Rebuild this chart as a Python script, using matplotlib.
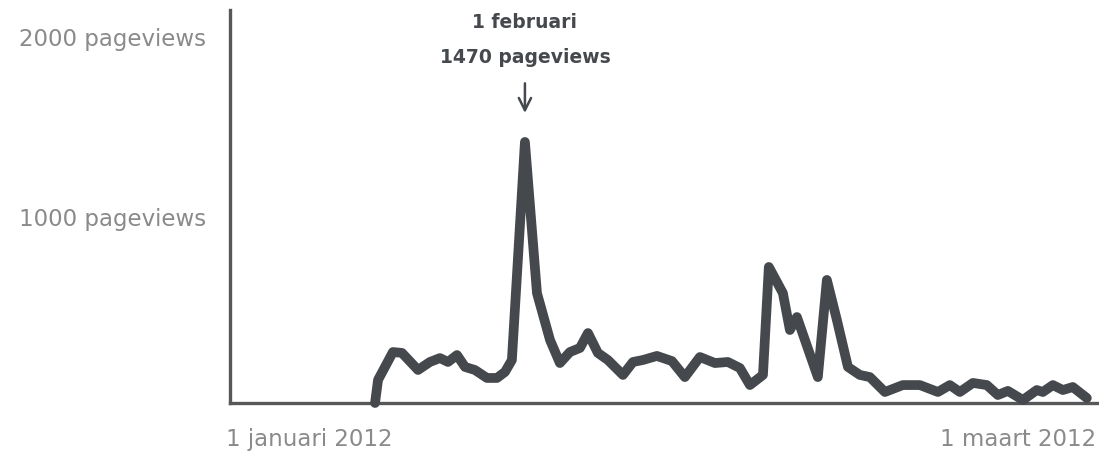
import matplotlib.pyplot as plt
import matplotlib.transforms as mtransforms

# daily pageviews, x in days since 1 januari 2012
days = [10.12, 10.33, 11.37, 12.0, 13.12, 13.95, 14.65, 15.21, 15.84, 16.40,
        17.09, 17.93, 18.63, 19.19, 19.67, 20.58, 21.42, 22.33, 23.02, 23.72,
        24.42, 24.98, 25.67, 26.37, 27.42, 28.12, 28.81, 29.79, 30.84, 31.74,
        32.79, 33.84, 34.74, 35.58, 36.28, 37.19, 37.60, 38.58, 39.07, 39.56,
        41.02, 41.65, 42.35, 43.12, 43.95, 44.65, 45.70, 46.95, 48.14, 49.40,
        50.23, 50.93, 51.84, 52.81, 53.58, 54.28, 55.33, 56.30, 56.72, 57.42,
        58.12, 58.81, 59.79]
pageviews = [0, 130, 287, 282, 186, 231, 253, 231, 270, 203,
             186, 141, 141, 175, 242, 1470, 619, 355, 225, 287,
             310, 394, 282, 242, 158, 231, 242, 265, 236, 146,
             259, 225, 231, 197, 101, 158, 766, 619, 411, 484,
             146, 693, 467, 203, 158, 146, 62, 101, 101, 62,
             101, 62, 113, 101, 45, 68, 17, 73, 62, 101,
             73, 90, 28]

ytick_vals = [1000, 2000]
ytick_labels = ['1000 pageviews', '2000 pageviews']
xtick_vals = [0, 60]
xtick_labels = ['1 januari 2012', '1 maart 2012']

peak_day = 20.58
peak_value = 1470
peak_date = '1 februari'
peak_text = '1470 pageviews'

dark = '#45484c'
grey = '#8a8a8a'

plt.rcParams['font.family'] = ['DejaVu Sans']

fig = plt.figure(figsize=(10.99, 4.55), dpi=100)
ax = fig.add_axes([230 / 1099, 52 / 455, 867 / 1099, 393 / 455])

ax.plot(days, pageviews, color=dark, lw=7, solid_joinstyle='round',
        solid_capstyle='round', clip_on=False, zorder=3)

ax.set_xlim(0, 60.5)
ax.set_ylim(0, 2213)

for side in ['top', 'right']:
    ax.spines[side].set_visible(False)
for side in ['left', 'bottom']:
    ax.spines[side].set_color('#555759')
    ax.spines[side].set_linewidth(2.4)

ax.set_yticks(ytick_vals)
ax.set_yticklabels(ytick_labels, fontsize=16.5, color=grey)
ax.set_xticks(xtick_vals)
ax.set_xticklabels(xtick_labels, fontsize=16.5, color=grey)
ax.tick_params(length=0)
ax.tick_params(axis='y', pad=17)
ax.tick_params(axis='x', pad=18)
xl = ax.get_xticklabels()
xl[0].set_horizontalalignment('left')
xl[1].set_horizontalalignment('right')

# lift the y labels a little above their values
yl = ax.get_yticklabels()
for lab, up in zip(yl, [8, 11]):
    off = mtransforms.ScaledTranslation(0, up / 100, fig.dpi_scale_trans)
    lab.set_transform(lab.get_transform() + off)
off_l = mtransforms.ScaledTranslation(-4 / 100, 0, fig.dpi_scale_trans)
xl[0].set_transform(xl[0].get_transform() + off_l)
off_r = mtransforms.ScaledTranslation(6 / 100, 0, fig.dpi_scale_trans)
xl[1].set_transform(xl[1].get_transform() + off_r)

# peak annotation
ax.annotate('', xy=(peak_day, peak_value + 163), xytext=(peak_day, peak_value + 330),
            arrowprops=dict(arrowstyle='->', color=dark, lw=1.8,
                            mutation_scale=22, shrinkA=0, shrinkB=0),
            annotation_clip=False)
ax.text(peak_day, peak_value + 478, peak_text, ha='center', va='center',
        fontsize=13.5, fontweight='bold', color=dark)
ax.text(peak_day, peak_value + 675, peak_date, ha='center', va='center',
        fontsize=13.5, fontweight='bold', color=dark)

fig.savefig('out.png', dpi=100)
